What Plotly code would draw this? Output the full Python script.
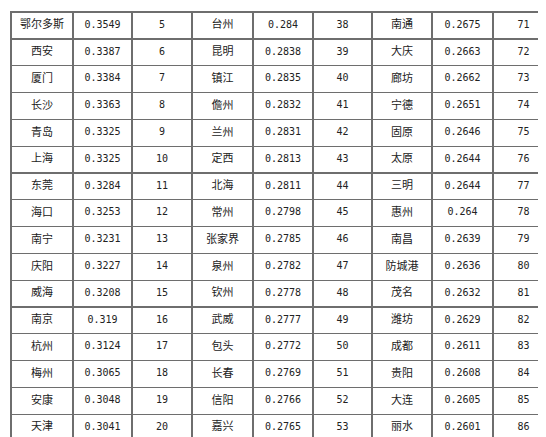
import plotly.graph_objects as go

city1 = ["鄂尔多斯","西安","厦门","长沙","青岛","上海","东莞","海口","南宁","庆阳","威海","南京","杭州","梅州","安康","天津",""]
val1 = ["0.3549","0.3387","0.3384","0.3363","0.3325","0.3325","0.3284","0.3253","0.3231","0.3227","0.3208","0.319","0.3124","0.3065","0.3048","0.3041",""]
rank1 = ["5","6","7","8","9","10","11","12","13","14","15","16","17","18","19","20",""]
city2 = ["台州","昆明","镇江","儋州","兰州","定西","北海","常州","张家界","泉州","钦州","武威","包头","长春","信阳","嘉兴",""]
val2 = ["0.284","0.2838","0.2835","0.2832","0.2831","0.2813","0.2811","0.2798","0.2785","0.2782","0.2778","0.2777","0.2772","0.2769","0.2766","0.2765",""]
rank2 = ["38","39","40","41","42","43","44","45","46","47","48","49","50","51","52","53",""]
city3 = ["南通","大庆","廊坊","宁德","固原","太原","三明","惠州","南昌","防城港","茂名","潍坊","成都","贵阳","大连","丽水",""]
val3 = ["0.2675","0.2663","0.2662","0.2651","0.2646","0.2644","0.2644","0.264","0.2639","0.2636","0.2632","0.2629","0.2611","0.2608","0.2605","0.2601",""]
rank3 = ["71","72","73","74","75","76","77","78","79","80","81","82","83","84","85","86",""]

cols = [city1, val1, rank1, city2, val2, rank2, city3, val3, rank3]
cjk = "Noto Sans CJK SC"
mono = "DejaVu Sans Mono"
fam = [cjk, mono, mono] * 3
sizes = [11, 10, 10] * 3
widths = [62, 59, 60, 61, 60, 59, 60, 61, 61]

style_line = dict(color="#6e6e6e", width=1.2)
fig = go.Figure(go.Table(
    columnwidth=widths,
    header=dict(values=[c[0] for c in cols], height=27, align="center",
                fill_color="white", line=style_line,
                font=dict(family=fam, size=sizes, color="#222")),
    cells=dict(values=[c[1:] for c in cols], height=26.8, align="center",
               fill_color="white", line=style_line,
               font=dict(family=fam, size=sizes, color="#222")),
    domain=dict(x=[3/546, 1], y=[0, 1-4/437]),
))
fig.update_layout(width=546, height=437, margin=dict(l=0, r=0, t=0, b=0),
                  paper_bgcolor="white")
fig.write_html("out.html")
